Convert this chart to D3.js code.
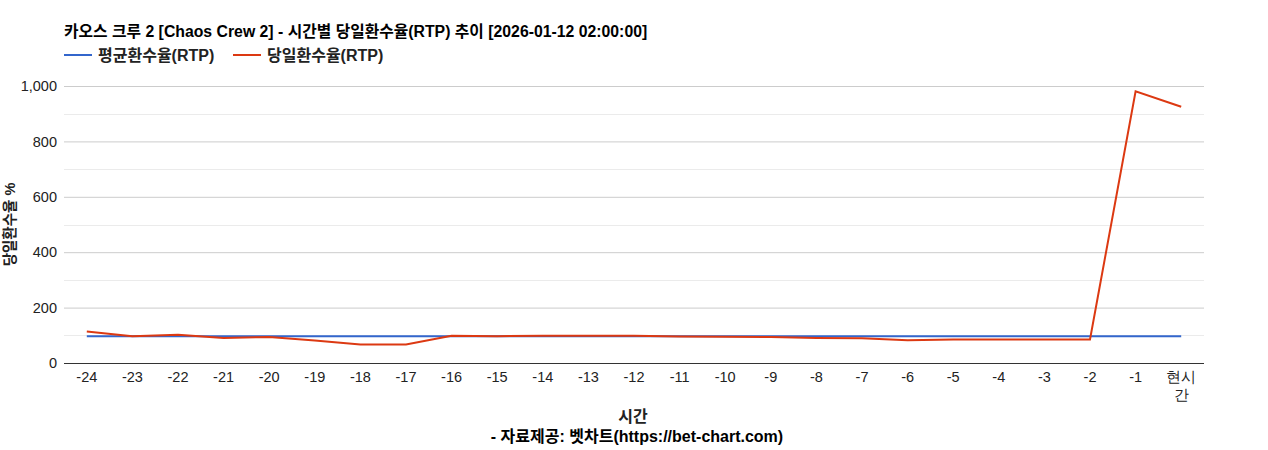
<!DOCTYPE html>
<html>
<head>
<meta charset="utf-8">
<script src="https://cdn.jsdelivr.net/npm/d3@7"></script>
<style>
  body { margin: 0; background: #fff; }
  svg { font-family: Arial, "Liberation Sans", "Noto Sans CJK KR", sans-serif; }
</style>
</head>
<body>
<div id="chart"></div>
<script>
// chart data
const hours = ["-24", "-23", "-22", "-21", "-20", "-19", "-18", "-17", "-16", "-15", "-14", "-13",
  "-12", "-11", "-10", "-9", "-8", "-7", "-6", "-5", "-4", "-3", "-2", "-1", "현시간"];
const avgRtp = [97, 97, 97, 97, 97, 97, 97, 97, 97, 97, 97, 97,
  97, 97, 97, 97, 97, 97, 97, 97, 97, 97, 97, 97, 97];
const dailyRtp = [114, 97, 102, 90, 94, 81, 67, 67, 98, 97, 98, 98,
  98, 96, 95, 94, 90, 89, 82, 85, 85, 85, 85, 981, 925];
const yTicks = [0, 200, 400, 600, 800, 1000];
const yMinorTicks = [100, 300, 500, 700, 900];

const series = [
  { name: "평균환수율(RTP)", color: "#3366cc", values: avgRtp },
  { name: "당일환수율(RTP)", color: "#dc3912", values: dailyRtp }
];

const width = 1268;
const height = 450;
const margin = { top: 86, right: 64, bottom: 87, left: 64 };

const svg = d3.select("#chart").append("svg")
  .attr("width", width)
  .attr("height", height);

const x = d3.scaleBand()
  .domain(hours)
  .range([margin.left, width - margin.right]);

const y = d3.scaleLinear()
  .domain([0, 1000])
  .range([height - margin.bottom, margin.top]);

// minor gridlines
svg.append("g")
  .selectAll("line")
  .data(yMinorTicks)
  .enter().append("line")
  .attr("x1", margin.left)
  .attr("x2", width - margin.right)
  .attr("y1", d => Math.round(y(d)) + 0.5)
  .attr("y2", d => Math.round(y(d)) + 0.5)
  .attr("stroke", "#ebebeb");

// major gridlines + labels
const yAxis = svg.append("g")
  .attr("transform", `translate(${margin.left},0)`)
  .call(d3.axisLeft(y)
    .tickValues(yTicks)
    .tickSize(-(width - margin.left - margin.right))
    .tickPadding(7)
    .tickFormat(d3.format(",")));
yAxis.select(".domain").remove();
yAxis.selectAll(".tick line")
  .attr("stroke", d => d === 0 ? "#333" : "#cccccc");
yAxis.selectAll(".tick text")
  .attr("font-size", 14.5)
  .attr("fill", "#222")
  .attr("font-family", "Arial, 'Liberation Sans', sans-serif");

// x axis labels
const xAxis = svg.append("g")
  .attr("transform", `translate(0,${height - margin.bottom})`)
  .call(d3.axisBottom(x).tickSize(0).tickPadding(9));
xAxis.select(".domain").remove();
xAxis.selectAll(".tick text")
  .attr("font-size", 14.5)
  .attr("fill", "#222")
  .each(function (d) {
    if (d === "현시간") {
      const t = d3.select(this).text(null);
      t.append("tspan").attr("x", 0).attr("dy", "0.71em").text("현시");
      t.append("tspan").attr("x", 0).attr("dy", "1.2em").text("간");
    }
  });

// lines
const line = d3.line()
  .x((d, i) => x(hours[i]) + x.bandwidth() / 2)
  .y(d => y(d));

svg.append("g")
  .selectAll("path")
  .data(series)
  .enter().append("path")
  .attr("d", d => line(d.values))
  .attr("fill", "none")
  .attr("stroke", d => d.color)
  .attr("stroke-width", 2);

// title
svg.append("text")
  .attr("x", 64)
  .attr("y", 37)
  .attr("font-size", 15.8)
  .attr("font-weight", "bold")
  .attr("fill", "#000")
  .text("카오스 크루 2 [Chaos Crew 2] - 시간별 당일환수율(RTP) 추이 [2026-01-12 02:00:00]");

// legend
const legendX = [64, 233];
const legend = svg.append("g")
  .selectAll("g")
  .data(series)
  .enter().append("g")
  .attr("transform", (d, i) => `translate(${legendX[i]},55)`);
legend.append("line")
  .attr("x1", 0).attr("x2", 28)
  .attr("stroke", d => d.color)
  .attr("stroke-width", 2);
legend.append("text")
  .attr("x", 34)
  .attr("dy", "0.36em")
  .attr("font-size", 16)
  .attr("font-weight", "bold")
  .attr("fill", "#222")
  .text(d => d.name);

// y axis title
svg.append("text")
  .attr("transform", `translate(14.5,${(margin.top + height - margin.bottom) / 2}) rotate(-90)`)
  .attr("text-anchor", "middle")
  .attr("font-size", 14.5)
  .attr("font-weight", "bold")
  .attr("fill", "#222")
  .text("당일환수율 %");

// x axis title
svg.append("text")
  .attr("x", 633)
  .attr("y", 422)
  .attr("text-anchor", "middle")
  .attr("font-size", 16)
  .attr("font-weight", "bold")
  .attr("fill", "#222")
  .text("시간");

// source
svg.append("text")
  .attr("x", 637)
  .attr("y", 442)
  .attr("text-anchor", "middle")
  .attr("font-size", 16)
  .attr("font-weight", "bold")
  .attr("fill", "#000")
  .text("- 자료제공: 벳차트(https://bet-chart.com)");
</script>
</body>
</html>
